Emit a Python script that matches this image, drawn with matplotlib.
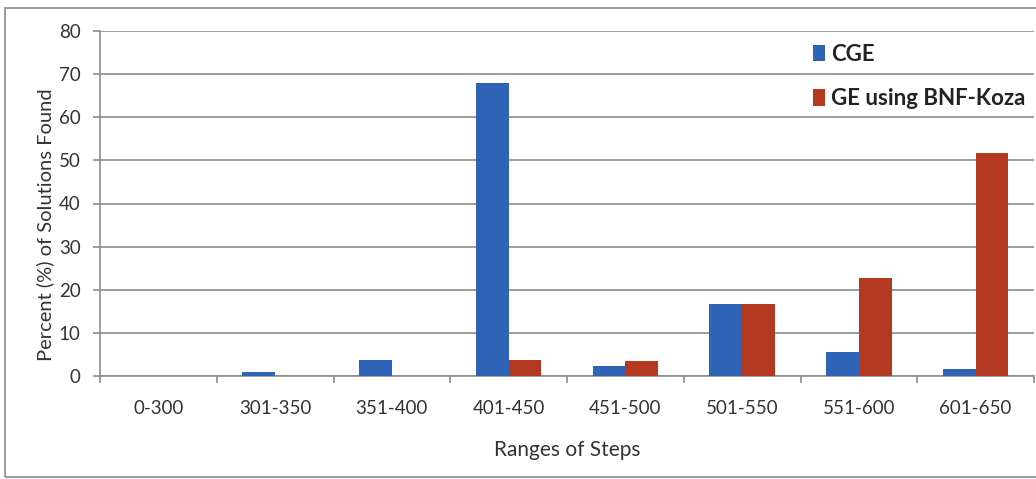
import matplotlib.pyplot as plt
import numpy as np
from matplotlib.patches import Rectangle

# Percentage of runs that found a solution, per range of steps
ranges = ["0-300", "301-350", "351-400", "401-450", "451-500", "501-550", "551-600", "601-650"]
cge = [0, 1.0, 3.8, 67.9, 2.4, 16.7, 5.6, 1.6]
ge_koza = [0, 0, 0, 3.6, 3.5, 16.7, 22.8, 51.7]

plt.rcParams['font.family'] = ['Lato', 'DejaVu Sans']

fig = plt.figure(figsize=(10.36, 4.79), dpi=100)
ax = fig.add_axes([100 / 1036, 1 - 376 / 479, 934 / 1036, 345 / 479])

# outer chart frame (runs off the right edge)
fig.patches.append(Rectangle((5 / 1036, 2 / 479), 1.1, 469 / 479, transform=fig.transFigure,
                             fill=False, edgecolor='#8a8a8a', linewidth=1.2))

x = np.arange(len(ranges))
w = 0.28
ax.bar(x - w / 2, cge, w, color='#2f63b6', label='CGE', zorder=3)
ax.bar(x + w / 2, ge_koza, w, color='#b33a20', label='GE using BNF-Koza', zorder=3)

ax.set_xlim(-0.5, len(ranges) - 0.5)
ax.set_ylim(0, 80)
ax.set_yticks(range(0, 81, 10))
ax.yaxis.grid(True, color='#8c8c8c', linewidth=1.2, zorder=0)
ax.set_axisbelow(True)

# category labels between boundary ticks
ax.set_xticks(np.arange(-0.5, len(ranges), 1.0))
ax.set_xticklabels([])
ax.set_xticks(x, minor=True)
ax.set_xticklabels(ranges, minor=True, fontsize=13.5, color='#333333')
ax.tick_params(axis='x', which='minor', length=0, pad=17)
ax.tick_params(axis='x', which='major', length=5, color='#8c8c8c', width=1.2)
ax.tick_params(axis='y', length=5, color='#8c8c8c', width=1.2, labelsize=13.5,
               labelcolor='#333333', pad=9)

for s in ['top', 'right']:
    ax.spines[s].set_visible(False)
for s in ['left', 'bottom']:
    ax.spines[s].set_color('#8c8c8c')
    ax.spines[s].set_linewidth(1.2)

ax.set_xlabel('Ranges of Steps', fontsize=15, color='#333333')
ax.xaxis.set_label_coords(0.5, -0.185)
ax.set_ylabel('Percent (%) of Solutions Found', fontsize=14.5, color='#333333')
ax.yaxis.set_label_coords(-0.049, 0.44)

leg = ax.legend(loc='upper left', bbox_to_anchor=(693 / 934, 1 + 7 / 345), frameon=False,
                handlelength=0.55, handleheight=0.75, handletextpad=0.25, labelspacing=1.05,
                prop={'weight': 'bold', 'size': 16})
for t in leg.get_texts():
    t.set_color('#222222')

fig.savefig('out.png', dpi=100)
